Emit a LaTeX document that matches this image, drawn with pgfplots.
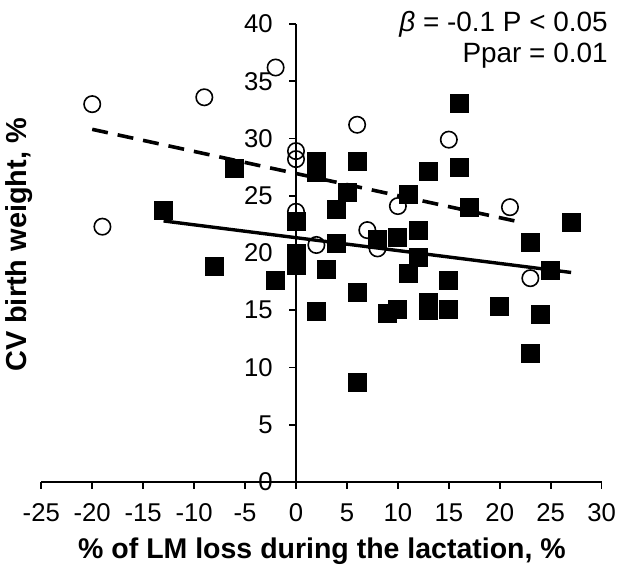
\documentclass[border=0pt]{standalone}
\usepackage{fontspec}
\setmainfont{Liberation Sans}
\usepackage{pgfplots}
\pgfplotsset{compat=1.18}
\begin{document}
\begin{tikzpicture}
\useasboundingbox (-148bp,-44bp) rectangle (160.5bp,241bp);
\begin{axis}[
  at={(0,0)}, anchor=origin,
  scale only axis, width=280.2bp, height=229bp,
  xmin=-25, xmax=30, ymin=0, ymax=40,
  axis lines=middle,
  axis line style={-, line width=0.8bp, black},
  xtick={-25,-20,...,30}, ytick={0,5,...,40},
  hide obscured x ticks=false, hide obscured y ticks=false,
  tick align=outside, major tick length=3.3bp,
  tick style={line width=0.8bp, black},
  /pgf/number format/assume math mode=true,
  xticklabel style={font=\fontsize{12.9}{14}\selectfont, inner sep=0pt, anchor=north, yshift=-7.4bp},
  yticklabel style={font=\fontsize{12.9}{14}\selectfont, inner sep=0pt, anchor=east, xshift=-8.2bp},
  clip=false,
]
\addplot[black, line width=1.8bp, dash pattern=on 8bp off 5bp] coordinates {(-20,30.8) (22,22.7)};
\addplot[black, line width=1.7bp] coordinates {(-13,22.8) (27,18.3)};
\addplot[only marks, mark=o, mark size=4.1bp, mark options={line width=0.8bp, black}] coordinates {
(-20,33.0) (-9,33.6) (-2,36.2) (-19,22.3) (0,28.9) (0,28.2) (0,23.6) (6,31.2) (15,29.9)
(10,24.1) (21,24.0) (2,20.7) (7,22.0) (8,20.4) (23,17.8)};
\addplot[only marks, mark=square*, mark size=4.5bp, mark options={black, fill=black}] coordinates {
(-13,23.7) (-6,27.4) (-8,18.8) (-2,17.6) (0,22.8) (0,20.0) (0,18.9) (2,28.0) (2,27.0) (2,14.9)
(3,18.6) (4,23.8) (4,20.8) (5,25.3) (6,28.0) (6,16.6) (6,8.7) (8,21.2) (9,14.7) (10,15.1)
(10,21.4) (11,25.1) (11,18.2) (12,22.0) (12,19.6) (13,27.1) (13,15.7) (13,15.0) (15,17.6)
(15,15.1) (16,33.1) (16,27.5) (17,24.0) (20,15.3) (23,20.9) (23,11.2) (24,14.6) (25,18.5) (27,22.7)};
\end{axis}
\node[anchor=base, inner sep=0pt, font=\fontsize{14.3}{16}\selectfont\bfseries] at (13bp,-38bp) {\% of LM loss during the lactation, \%};
\node[anchor=south, rotate=90, inner sep=0pt, font=\fontsize{14.5}{16}\selectfont\bfseries] at (-131.4bp,118.5bp) {CV birth weight, \%};
\node[anchor=base east, inner sep=0pt, font=\fontsize{14}{16}\selectfont] at (156bp,225bp) {{\itshape β} = -0.1 P < 0.05};
\node[anchor=base east, inner sep=0pt, font=\fontsize{14}{16}\selectfont] at (156bp,209.5bp) {Ppar = 0.01};
\end{tikzpicture}
\end{document}
